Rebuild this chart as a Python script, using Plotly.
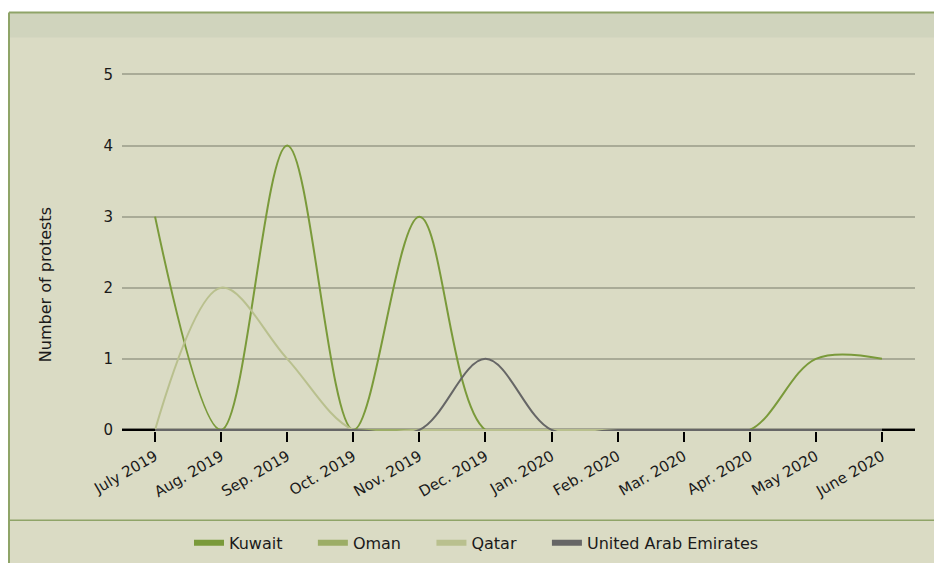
import plotly.graph_objects as go

# ---- data ----
months = ["July 2019", "Aug. 2019", "Sep. 2019", "Oct. 2019", "Nov. 2019", "Dec. 2019",
          "Jan. 2020", "Feb. 2020", "Mar. 2020", "Apr. 2020", "May 2020", "June 2020"]
kuwait = [3, 0, 4, 0, 3, 0, 0, 0, 0, 0, 1, 1]
oman = [0, 0, 0, 0, 0, 0, 0, 0, 0, 0, 0, 0]
qatar = [0, 2, 1, 0, 0, 0, 0, 0, 0, 0, 0, 0]
uae = [0, 0, 0, 0, 0, 1, 0, 0, 0, 0, 0, 0]
series_names = ["Kuwait", "Oman", "Qatar", "United Arab Emirates"]
y_ticks = [0, 1, 2, 3, 4, 5]

colors = ["#7a9a3a", "#9cad66", "#b9c08e", "#666666"]
FONT = "DejaVu Sans, Verdana, sans-serif"

W, H = 934, 563
YMIN, YMAX = -0.015, 5.02
# pixel positions of y=0 and y=5 in the reference
Y0_PX, Y5_PX = 430.0, 74.0
unit = (Y0_PX - Y5_PX) / 5.0
B = Y0_PX + (0 - YMIN) * unit      # plot bottom edge
T = Y5_PX - (YMAX - 5) * unit      # plot top edge
L, R = 122, 915


def px(x):
    return (x - L) / (R - L)


def py(y):
    return (B - y) / (B - T)


fig = go.Figure()
for name, vals, c in zip(series_names, [kuwait, oman, qatar, uae], colors):
    fig.add_trace(go.Scatter(
        x=months, y=vals, mode="lines", name=name, showlegend=False,
        line=dict(color=c, width=2, shape="spline", smoothing=1.0),
        hoverinfo="x+y+name",
    ))
# legend swatches
pad = "\u00a0" * 5
for name, c in zip(series_names, colors):
    fig.add_trace(go.Scatter(
        x=[None], y=[None], mode="lines", name=name + pad,
        line=dict(color=c, width=6), showlegend=True,
    ))

n = len(months)
shapes = [
    dict(type="rect", xref="paper", yref="paper", x0=px(9), x1=px(W + 10), y0=py(H + 10), y1=py(12),
         fillcolor="#dadbc4", line=dict(width=0), layer="below"),
    dict(type="rect", xref="paper", yref="paper", x0=px(9), x1=px(W + 10), y0=py(37), y1=py(12),
         fillcolor="#d0d4bd", line=dict(width=0), layer="below"),
    dict(type="line", xref="paper", yref="paper", x0=px(9), x1=px(W + 10), y0=py(12), y1=py(12),
         line=dict(color="#8fa468", width=2), layer="below"),
    dict(type="line", xref="paper", yref="paper", x0=px(9), x1=px(9), y0=py(12), y1=py(H + 10),
         line=dict(color="#8fa468", width=2), layer="below"),
    dict(type="line", xref="paper", yref="paper", x0=px(9), x1=px(W + 10), y0=py(520.5), y1=py(520.5),
         line=dict(color="#8fa468", width=1.5), layer="below"),
    # black baseline at y = 0 (under the traces)
    dict(type="line", xref="paper", yref="y", x0=0, x1=1, y0=0, y1=0,
         line=dict(color="#000000", width=2.5), layer="between"),
    # black baseline ends outside the data range
    dict(type="line", xref="x", yref="y", x0=-0.5, x1=0, y0=0, y1=0,
         line=dict(color="#000000", width=2.5), layer="above"),
    dict(type="line", xref="x", yref="y", x0=n - 1, x1=n - 0.5, y0=0, y1=0,
         line=dict(color="#000000", width=2.5), layer="above"),
]

fig.update_layout(
    width=W, height=H,
    margin=dict(l=L, r=W - R, t=T, b=H - B, pad=0, autoexpand=False),
    paper_bgcolor="white",
    plot_bgcolor="rgba(0,0,0,0)",
    font=dict(family=FONT, size=15, color="#1a1a1a"),
    shapes=shapes,
    showlegend=True,
    legend=dict(
        orientation="h", x=px(189), xanchor="left", y=py(543), yanchor="middle",
        bgcolor="rgba(0,0,0,0)", font=dict(family=FONT, size=16, color="#1a1a1a"),
        itemclick=False, itemdoubleclick=False,
    ),
    annotations=[dict(
        text="Number of protests", xref="paper", yref="paper", x=px(45), y=py(285),
        xanchor="center", yanchor="middle", textangle=-90, showarrow=False,
        font=dict(family=FONT, size=16, color="#1a1a1a"),
    )],
    xaxis=dict(
        type="category", categoryorder="array", categoryarray=months,
        range=[-0.5, n - 0.5],
        showgrid=False, zeroline=False, showline=False,
        ticks="outside", ticklen=10, tickwidth=1.5, tickcolor="#000000",
        tickangle=-30, tickfont=dict(family=FONT, size=15, color="#1a1a1a"),
    ),
    yaxis=dict(
        range=[YMIN, YMAX], tickvals=y_ticks, ticktext=[str(v) for v in y_ticks],
        showgrid=True, gridcolor="#a9ab97", gridwidth=2,
        zeroline=False, showline=False, ticks="",
        ticklabelstandoff=8,
        tickfont=dict(family=FONT, size=15, color="#1a1a1a"),
    ),
)

fig.write_html(
    "out.html",
    config={"displayModeBar": False},
    post_script="document.body.style.margin='0';document.body.style.overflow='hidden';",
)
